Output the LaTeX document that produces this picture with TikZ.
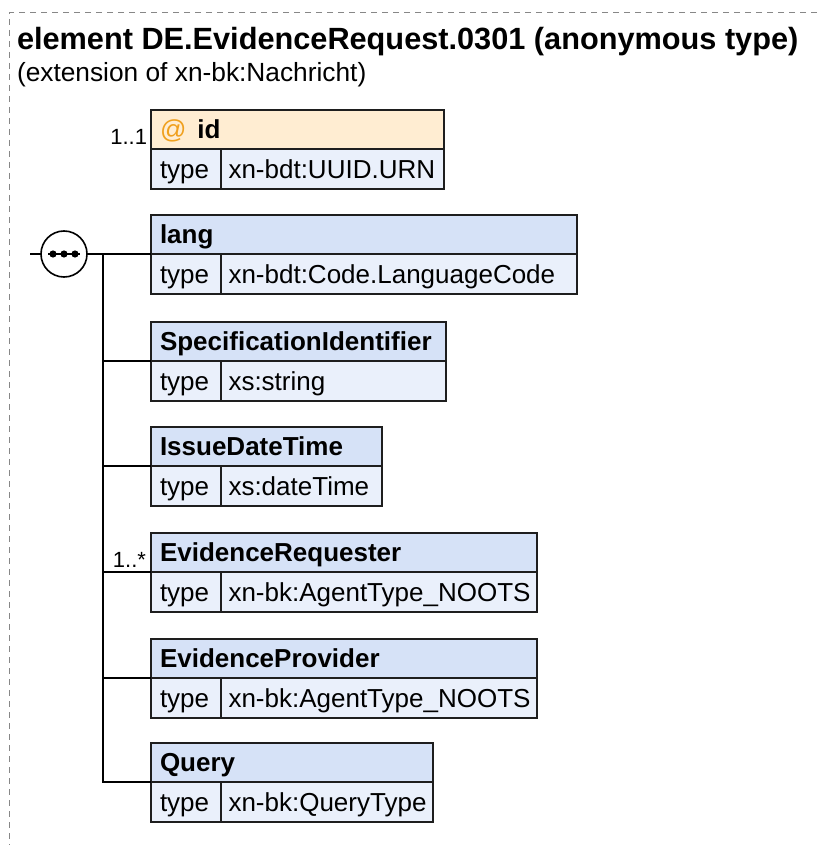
\documentclass[tikz,border=0pt]{standalone}
\usepackage{fontspec}
\setmainfont{Liberation Sans}
\definecolor{hdrblue}{RGB}{214,226,247}
\definecolor{rowblue}{RGB}{234,240,251}
\definecolor{hdrorange}{RGB}{255,237,210}
\definecolor{atorange}{RGB}{240,160,30}
\definecolor{edge}{RGB}{30,30,30}
\definecolor{frame}{RGB}{135,135,135}

% one element box: name, top y, right x, label, type, header style
\newcommand\xsdelem[6]{%
  \pgfmathsetmacro\hdrw{#3-151}%
  \pgfmathsetmacro\hdrtw{#3-151-18}%
  \pgfmathsetmacro\valw{#3-221}%
  \pgfmathsetmacro\valtw{#3-221-15}%
  \node[hdr,#6,minimum width=\hdrw pt] (#1) at (151,-#2) {\hbox to \hdrtw pt{#4\hss}};
  \node[typecell] (#1-t) at (#1.south west) {\hbox to 52pt{type\hss}};
  \node[valcell,minimum width=\valw pt] (#1-v) at (#1-t.north east) {\hbox to \valtw pt{#5\hss}};
}

\begin{document}
\begin{tikzpicture}[x=1pt,y=1pt,
  every node/.style={outer sep=0pt},
  boxbase/.style={draw=edge,line width=1.8pt,anchor=north west,
    text height=18.7pt,text depth=0pt,
    font=\fontsize{26}{30}\selectfont},
  hdr/.style={boxbase,fill=hdrblue,minimum height=39pt,inner xsep=9pt,inner ysep=0pt,
    font=\fontsize{26}{30}\selectfont\bfseries},
  attrhdr/.style={fill=hdrorange},
  elemhdr/.style={},
  typecell/.style={boxbase,fill=rowblue,minimum height=40pt,minimum width=70pt,
    inner xsep=9pt,inner ysep=0pt},
  valcell/.style={boxbase,fill=rowblue,minimum height=40pt,inner xsep=7.5pt,inner ysep=0pt},
  conn/.style={draw=black,line width=1.8pt},
  mult/.style={anchor=base east,inner sep=0pt,font=\fontsize{22}{26}\selectfont},
  seqcircle/.style={circle,draw=black,fill=white,line width=1.6pt,minimum size=46pt,inner sep=0pt},
  seqdot/.style={fill=black,draw=none}
]
\useasboundingbox (0,0) rectangle (817,-845);

% outer frame of the element
\draw[frame,line width=1pt,dash pattern=on 6pt off 5pt] (817,-13) -- (9,-13) -- (9,-845);

% heading
\node[anchor=base west,inner sep=0pt,font=\fontsize{30.7}{34}\selectfont\bfseries] (title) at (17,-50)
  {element DE.EvidenceRequest.0301 (anonymous type)};
\node[anchor=base west,inner sep=0pt,font=\fontsize{26.3}{30}\selectfont] (subtitle) at (17,-82)
  {(extension of xn-bk:Nachricht)};

% attribute and child elements
\xsdelem{id}{110}{444}{{\mdseries\color{atorange}@}\hspace{11pt}id}{xn-bdt:UUID.URN}{attrhdr}
\xsdelem{lang}{215}{577}{lang}{xn-bdt:Code.LanguageCode}{elemhdr}
\xsdelem{spec}{322}{446}{SpecificationIdentifier}{xs:string}{elemhdr}
\xsdelem{issue}{427}{382}{IssueDateTime}{xs:dateTime}{elemhdr}
\xsdelem{requester}{533}{537}{EvidenceRequester}{xn-bk:AgentType\_NOOTS}{elemhdr}
\xsdelem{provider}{639}{537}{EvidenceProvider}{xn-bk:AgentType\_NOOTS}{elemhdr}
\xsdelem{query}{743}{433}{Query}{xn-bk:QueryType}{elemhdr}

% multiplicities
\node[mult] (m-id) at ([xshift=-4pt,yshift=4pt]id.south west) {1..1};
\node[mult] (m-req) at ([xshift=-5pt,yshift=5pt]requester.south west) {1..*};

% sequence compositor
\coordinate (in) at (30,-254);
\node[seqcircle] (seq) at (64,-254) {};
\draw[line width=1.6pt] ([xshift=-16pt]seq.center) -- ([xshift=16pt]seq.center);
\foreach \dx in {-11,0,11}
  \fill[seqdot] ([xshift=\dx pt]seq.center) circle (3.6pt);
\draw[conn] (in) -- (seq.west);
\draw[conn] (seq.east) -- (lang.south west);

% branch lines to the children
\coordinate (spine) at (103,-254);
\draw[conn] (spine) |- (query.south west);
\foreach \e in {spec,issue,requester,provider}
  \draw[conn] (\e.south west -| spine) -- (\e.south west);
\end{tikzpicture}
\end{document}
